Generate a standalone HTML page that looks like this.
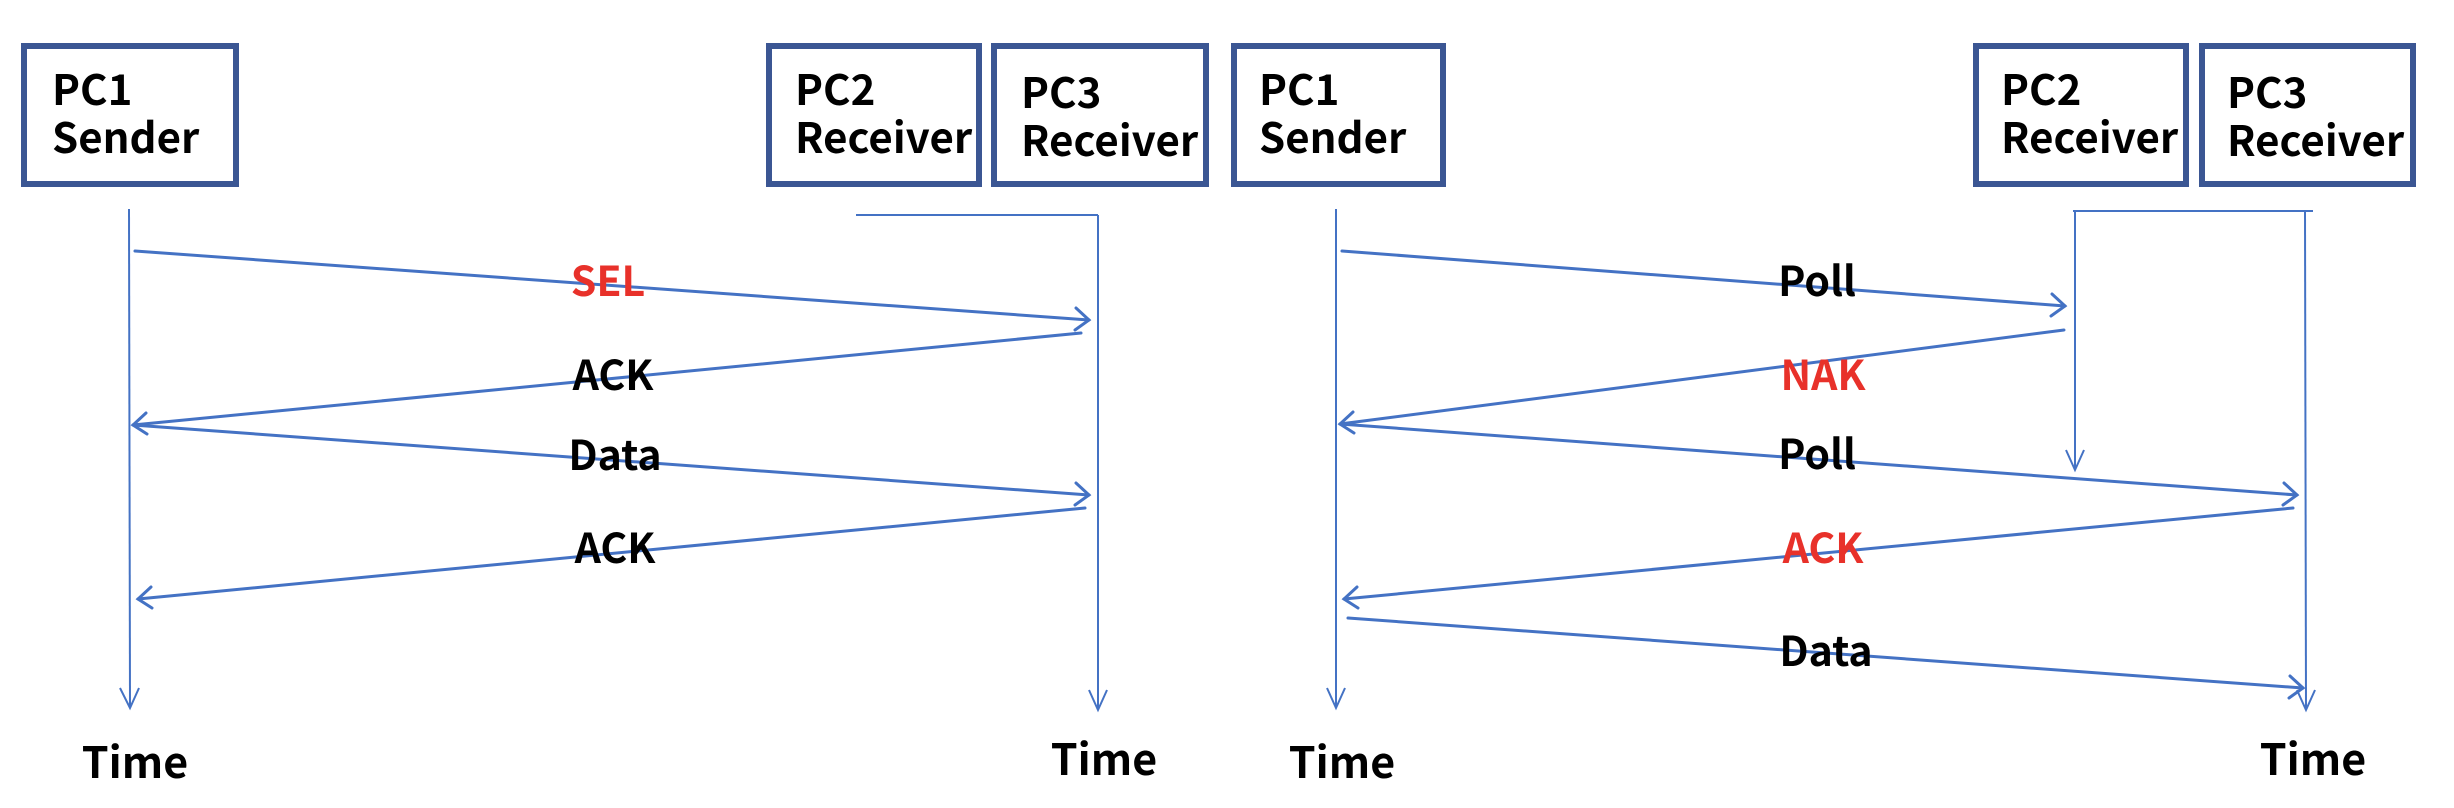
<!DOCTYPE html>
<html><head><meta charset="utf-8"><style>
html,body{margin:0;padding:0;background:#fff;}
svg{display:block;}
text{font-family:"Noto Sans CJK JP","Liberation Sans",sans-serif;font-weight:bold;}
</style></head><body>
<svg width="2454" height="808" viewBox="0 0 2454 808" xmlns="http://www.w3.org/2000/svg">
<g fill="none" stroke="#3b5693" stroke-width="6">
<rect x="24" y="46" width="212" height="138"/>
<rect x="769" y="46" width="210" height="138"/>
<rect x="994" y="46" width="212" height="138"/>
<rect x="1234" y="46" width="209" height="138"/>
<rect x="1976" y="46" width="210" height="138"/>
<rect x="2202" y="46" width="211" height="138"/>
</g>
<g font-size="42" fill="#000">
<text x="52" y="105">PC1</text><text x="52" y="153">Sender</text>
<text x="795" y="105">PC2</text><text x="795" y="153">Receiver</text>
<text x="1021" y="108">PC3</text><text x="1021" y="156">Receiver</text>
<text x="1259" y="105">PC1</text><text x="1259" y="153">Sender</text>
<text x="2001" y="105">PC2</text><text x="2001" y="153">Receiver</text>
<text x="2227" y="108">PC3</text><text x="2227" y="156">Receiver</text>
</g>
<g stroke="#4472c4" stroke-width="2" fill="none">
<line x1="129" y1="209" x2="130" y2="707"/>
<line x1="1098" y1="215" x2="1098" y2="709"/>
<line x1="856" y1="215" x2="1098" y2="215"/>
<line x1="1336" y1="209" x2="1336" y2="707"/>
<line x1="2073" y1="211" x2="2313" y2="211"/>
<line x1="2075" y1="211" x2="2075" y2="469"/>
<line x1="2305" y1="211" x2="2306" y2="709"/>
<polyline points="120,688 130,708 139,688"/>
<polyline points="1089,690 1098,710 1107,690"/>
<polyline points="1327,688 1336,708 1345,688"/>
<polyline points="2066,450 2075,470 2084,450"/>
<polyline points="2297,690 2306,710 2315,690"/>
</g>
<g stroke="#4472c4" stroke-width="3" fill="none" stroke-linecap="round">
<line x1="135" y1="251" x2="1089" y2="320"/>
<polyline points="1076,308 1089,320 1075,330"/>
<line x1="1081" y1="333" x2="133" y2="425"/>
<polyline points="146,413 133,425 147,434"/>
<line x1="133" y1="425" x2="1089" y2="495"/>
<polyline points="1076,483 1089,495 1075,505"/>
<line x1="1085" y1="508" x2="138" y2="599"/>
<polyline points="151,587 138,599 152,608"/>

<line x1="1342" y1="251" x2="2065" y2="306"/>
<polyline points="2052,294 2065,306 2051,316"/>
<line x1="2064" y1="330" x2="1340" y2="424"/>
<polyline points="1353,412 1340,424 1354,433"/>
<line x1="1340" y1="424" x2="2297" y2="495"/>
<polyline points="2284,483 2297,495 2283,505"/>
<line x1="2293" y1="508" x2="1344" y2="599"/>
<polyline points="1357,587 1344,599 1358,608"/>
<line x1="1348" y1="618" x2="2303" y2="688"/>
<polyline points="2290,676 2303,688 2289,698"/>
</g>
<g font-size="41" text-anchor="middle">
<text x="608" y="296" fill="#e8312a">SEL</text>
<text x="613" y="390" fill="#000">ACK</text>
<text x="615" y="470" fill="#000">Data</text>
<text x="615" y="563" fill="#000">ACK</text>
<text x="1817" y="296" fill="#000">Poll</text>
<text x="1823" y="390" fill="#e8312a">NAK</text>
<text x="1817" y="469" fill="#000">Poll</text>
<text x="1823" y="563" fill="#e8312a">ACK</text>
<text x="1826" y="666" fill="#000">Data</text>
</g>
<g font-size="43" text-anchor="middle" fill="#000">
<text x="135" y="778">Time</text>
<text x="1104" y="775">Time</text>
<text x="1342" y="778">Time</text>
<text x="2313" y="775">Time</text>
</g>
</svg>
</body></html>
